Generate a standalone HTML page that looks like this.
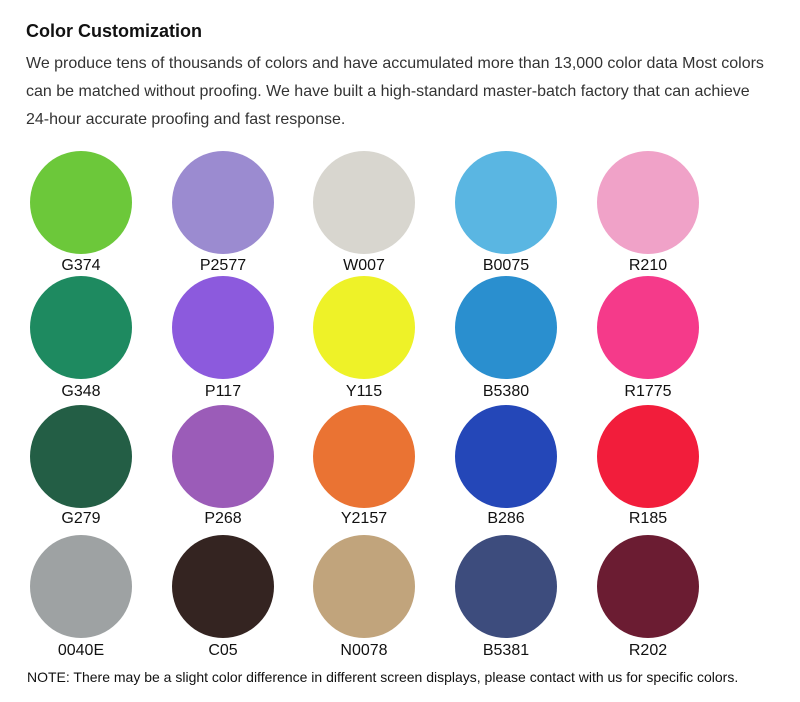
<!DOCTYPE html>
<html><head><meta charset="utf-8"><style>
body{margin:0;width:800px;height:702px;background:#fff;position:relative;overflow:hidden;font-family:"Liberation Sans",Arial,sans-serif}
.t{position:absolute;left:26px;top:21px;font-size:18px;font-weight:bold;color:#111}
.p{position:absolute;left:26px;top:50px;width:760px;font-size:16px;line-height:28px;color:#333}
.c{position:absolute;width:102px;height:103px;border-radius:50%}
.l{position:absolute;width:140px;text-align:center;font-size:16px;color:#111}
.n{position:absolute;left:27px;top:669px;font-size:14px;color:#111}
</style></head><body>
<div class="t">Color Customization</div>
<div class="p">We produce tens of thousands of colors and have accumulated more than 13,000 color data Most colors<br>can be matched without proofing. We have built a high-standard master-batch factory that can achieve<br>24-hour accurate proofing and fast response.</div>

<div class="c" style="left:30px;top:151px;background:#6cc83a"></div>
<div class="c" style="left:172px;top:151px;background:#9b8bd0"></div>
<div class="c" style="left:313px;top:151px;background:#d8d6cf"></div>
<div class="c" style="left:455px;top:151px;background:#5ab6e2"></div>
<div class="c" style="left:597px;top:151px;background:#f0a2c8"></div>
<div class="l" style="left:11px;top:257px">G374</div>
<div class="l" style="left:153px;top:257px">P2577</div>
<div class="l" style="left:294px;top:257px">W007</div>
<div class="l" style="left:436px;top:257px">B0075</div>
<div class="l" style="left:578px;top:257px">R210</div>

<div class="c" style="left:30px;top:276px;background:#1e8a60"></div>
<div class="c" style="left:172px;top:276px;background:#8c5add"></div>
<div class="c" style="left:313px;top:276px;background:#eef228"></div>
<div class="c" style="left:455px;top:276px;background:#2a8fcf"></div>
<div class="c" style="left:597px;top:276px;background:#f53a8a"></div>
<div class="l" style="left:11px;top:383px">G348</div>
<div class="l" style="left:153px;top:383px">P117</div>
<div class="l" style="left:294px;top:383px">Y115</div>
<div class="l" style="left:436px;top:383px">B5380</div>
<div class="l" style="left:578px;top:383px">R1775</div>

<div class="c" style="left:30px;top:405px;background:#235e45"></div>
<div class="c" style="left:172px;top:405px;background:#9b5cb8"></div>
<div class="c" style="left:313px;top:405px;background:#ea7333"></div>
<div class="c" style="left:455px;top:405px;background:#2447b8"></div>
<div class="c" style="left:597px;top:405px;background:#f21d3b"></div>
<div class="l" style="left:11px;top:510px">G279</div>
<div class="l" style="left:153px;top:510px">P268</div>
<div class="l" style="left:294px;top:510px">Y2157</div>
<div class="l" style="left:436px;top:510px">B286</div>
<div class="l" style="left:578px;top:510px">R185</div>

<div class="c" style="left:30px;top:535px;background:#9ea2a3"></div>
<div class="c" style="left:172px;top:535px;background:#342421"></div>
<div class="c" style="left:313px;top:535px;background:#c1a47c"></div>
<div class="c" style="left:455px;top:535px;background:#3d4c7d"></div>
<div class="c" style="left:597px;top:535px;background:#6b1c32"></div>
<div class="l" style="left:11px;top:642px">0040E</div>
<div class="l" style="left:153px;top:642px">C05</div>
<div class="l" style="left:294px;top:642px">N0078</div>
<div class="l" style="left:436px;top:642px">B5381</div>
<div class="l" style="left:578px;top:642px">R202</div>

<div class="n">NOTE: There may be a slight color difference in different screen displays, please contact with us for specific colors.</div>
</body></html>
